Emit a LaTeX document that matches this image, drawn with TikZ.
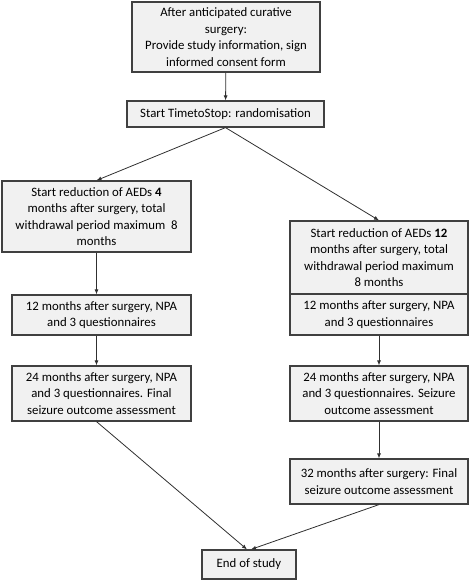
\documentclass[tikz,border=0pt]{standalone}
\usepackage{fontspec}
\setmainfont{Carlito}
\usetikzlibrary{arrows.meta}
\definecolor{boxline}{HTML}{404040}
\definecolor{boxfill}{HTML}{F1F1F1}
\definecolor{arrowline}{HTML}{303030}
\begin{document}
\begin{tikzpicture}[x=1pt,y=-1pt,
	box/.style={draw=boxline,fill=boxfill,line width=1.2pt,align=center,inner sep=1pt,
		font=\fontsize{12.8}{16.5}\selectfont},
	arr/.style={draw=arrowline,line width=0.8pt,-{Latex[length=5pt,width=4pt]}}]
	\useasboundingbox (0,0) rectangle (472,581);
	\node[box,minimum width=188pt,minimum height=70pt] (consent) at (226,37)
	{After anticipated curative\\surgery:\\Provide study information, sign\\informed consent form};
	\node[box,minimum width=197pt,minimum height=26pt] (random) at (225.5,114)
	{Start TimetoStop: randomisation};
	% left arm
	\node[box,minimum width=189pt,minimum height=71pt] (redfour) at (96.5,216.5)
	{Start reduction of AEDs \textbf{4}\\months after surgery, total\\withdrawal period maximum\ \ 8\\months};
	\node[box,minimum width=179pt,minimum height=40pt] (twelveL) at (101.5,315)
	{12 months after surgery, NPA\\and 3 questionnaires};
	\node[box,minimum width=179pt,minimum height=55pt] (twentyfourL) at (101.5,393.5)
	{24 months after surgery, NPA\\and 3 questionnaires. Final\\seizure outcome assessment};
	% right arm
	\node[box,minimum width=178pt,minimum height=73pt] (redtwelve) at (379,257.5)
	{Start reduction of AEDs \textbf{12}\\months after surgery, total\\withdrawal period maximum\\8 months};
	\node[box,minimum width=178pt,minimum height=41pt] (twelveR) at (379,314.5)
	{12 months after surgery, NPA\\and 3 questionnaires};
	\node[box,minimum width=178pt,minimum height=55pt] (twentyfourR) at (379,393.5)
	{24 months after surgery, NPA\\and 3 questionnaires. Seizure\\outcome assessment};
	\node[box,minimum width=178pt,minimum height=45pt] (thirtytwo) at (379,481.5)
	{32 months after surgery: Final\\seizure outcome assessment};
	\node[box,minimum width=94pt,minimum height=29pt] (endstudy) at (249,564.5)
	{End of study};
	\draw[arr] (consent) -- (random);
	\draw[arr] (random.south) -- (redfour.north);
	\draw[arr] (random.south) -- (redtwelve.north);
	\draw[arr] (redfour.south) -- (redfour.south |- twelveL.north);
	\draw[arr] (redfour.south |- twelveL.south) -- (redfour.south |- twentyfourL.north);
	\draw[arr] (twelveR) -- (twentyfourR);
	\draw[arr] (twentyfourR) -- (thirtytwo);
	\draw[arr] (redfour.south |- twentyfourL.south) -- ([xshift=-2pt]endstudy.north);
	\draw[arr] (thirtytwo.south) -- ([xshift=2pt]endstudy.north);
\end{tikzpicture}
\end{document}
